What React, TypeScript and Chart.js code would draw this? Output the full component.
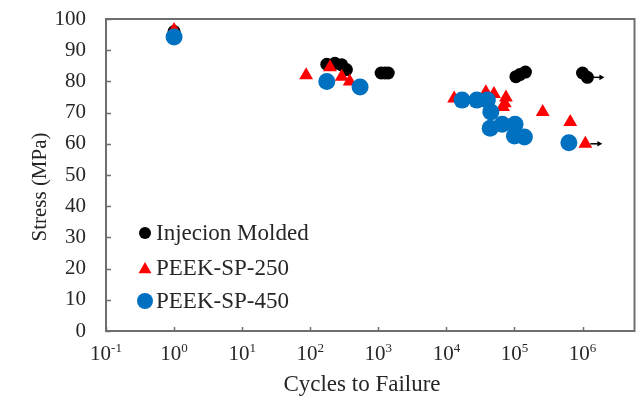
import React, { useEffect, useRef } from "react";
import { Chart, registerables } from "chart.js";
import { drawPoint } from "chart.js/helpers";

Chart.register(...registerables);

const SERIF = '"Liberation Serif", "Times New Roman", Times, serif';
const FRAME_GRAY = "#6e6e6e";
const TEXT_COLOR = "#262626";

// Injection molded specimens
const moldedCycles = [1, 175, 230, 290, 340, 1100, 1250, 1400, 1.05e5, 1.2e5, 1.45e5, 1.0e6, 1.18e6];
const moldedStress = [96, 85.5, 85.8, 85.3, 83.8, 82.7, 82.7, 82.7, 81.5, 82.2, 83, 82.7, 81.3];

// Screw-printed at 250
const sp250Cycles = [1, 87, 195, 290, 380, 1.3e4, 3.8e4, 5.0e4, 7.5e4, 7.2e4, 6.8e4, 2.6e5, 6.6e5, 1.1e6];
const sp250Stress = [96.5, 82, 84.5, 81.5, 80, 74.5, 76.5, 76, 74.8, 73, 71.8, 70.2, 67, 60];

// Screw-printed at 450
const sp450Cycles = [1, 175, 540, 1.7e4, 2.8e4, 4.0e4, 4.5e4, 4.4e4, 6.6e4, 1.02e5, 1.0e5, 1.4e5, 6.3e5];
const sp450Stress = [94.2, 80, 78.2, 74, 74, 74, 70.2, 65, 66.3, 66.3, 62.5, 62.2, 60.3];

// Run-outs (specimens that did not fail)
const runoutCycles = [1.18e6, 1.1e6];
const runoutStress = [81.3, 60];

const seriesNames = ["Injecion Molded", "PEEK-SP-250", "PEEK-SP-450"];
const seriesColors = ["#000000", "#ff0000", "#0070c0"];
const seriesStyles = ["circle", "triangle", "circle"];
const seriesRadius = [6.5, 8, 8.5];

const xTickExponents = [-1, 0, 1, 2, 3, 4, 5, 6];
const yTickValues = [0, 10, 20, 30, 40, 50, 60, 70, 80, 90, 100];

const toPoints = (xs: number[], ys: number[]) => xs.map((v, i) => ({ x: v, y: ys[i] }));

const zeroPadding = (scale: any) => {
  scale.paddingTop = 0;
  scale.paddingBottom = 0;
  scale.paddingLeft = 0;
  scale.paddingRight = 0;
};

const decorPlugin = {
  id: "decor",
  afterDatasetsDraw(chart: any) {
    const { ctx } = chart;
    const xs = chart.scales.x;
    const ys = chart.scales.y;
    // run-out arrows
    ctx.save();
    ctx.strokeStyle = "#000";
    ctx.fillStyle = "#000";
    ctx.lineWidth = 1.5;
    runoutCycles.forEach((c, i) => {
      const px = xs.getPixelForValue(c);
      const py = ys.getPixelForValue(runoutStress[i]);
      const end = px + 17;
      ctx.beginPath();
      ctx.moveTo(px + 5, py);
      ctx.lineTo(end - 4, py);
      ctx.stroke();
      ctx.beginPath();
      ctx.moveTo(end, py);
      ctx.lineTo(end - 5, py - 2.8);
      ctx.lineTo(end - 5, py + 2.8);
      ctx.closePath();
      ctx.fill();
    });
    ctx.restore();
  },
  afterDraw(chart: any) {
    const { ctx, chartArea } = chart;
    const xs = chart.scales.x;
    const ys = chart.scales.y;
    const { left, right, top, bottom } = chartArea;
    ctx.save();

    // plot frame
    ctx.strokeStyle = FRAME_GRAY;
    ctx.lineWidth = 2;
    ctx.strokeRect(left, top, right - left, bottom - top);

    // inward tick marks
    ctx.lineWidth = 1.5;
    ctx.beginPath();
    yTickValues.forEach((v) => {
      const py = Math.round(ys.getPixelForValue(v)) + 0.5;
      ctx.moveTo(left, py);
      ctx.lineTo(left + 5, py);
    });
    xTickExponents.forEach((e) => {
      const px = Math.round(xs.getPixelForValue(Math.pow(10, e))) + 0.5;
      ctx.moveTo(px, bottom);
      ctx.lineTo(px, bottom - 4);
    });
    ctx.stroke();

    // x tick labels: 10 with superscript exponent
    ctx.fillStyle = TEXT_COLOR;
    ctx.textBaseline = "alphabetic";
    ctx.textAlign = "left";
    xTickExponents.forEach((e) => {
      const px = xs.getPixelForValue(Math.pow(10, e));
      const base = "10";
      const sup = e < 0 ? "-" + Math.abs(e) : String(e);
      ctx.font = `21px ${SERIF}`;
      const wb = ctx.measureText(base).width;
      ctx.font = `13px ${SERIF}`;
      const ws = ctx.measureText(sup).width;
      const x0 = px - (wb + ws) / 2;
      ctx.font = `21px ${SERIF}`;
      ctx.fillText(base, x0, bottom + 29);
      ctx.font = `13px ${SERIF}`;
      ctx.fillText(sup, x0 + wb, bottom + 21);
    });

    // axis titles
    ctx.font = `23px ${SERIF}`;
    ctx.textAlign = "center";
    ctx.fillText("Cycles to Failure", left + 256, bottom + 60);
    ctx.save();
    ctx.translate(40, top + 168);
    ctx.rotate(-Math.PI / 2);
    ctx.textBaseline = "middle";
    ctx.font = `21px ${SERIF}`;
    ctx.fillText("Stress (MPa)", 0, 0);
    ctx.restore();

    // legend inside the plot
    const lx = left + 39;
    const rowY = [top + 214, top + 248.5, top + 282];
    seriesNames.forEach((name, i) => {
      ctx.fillStyle = seriesColors[i];
      ctx.strokeStyle = seriesColors[i];
      drawPoint(
        ctx,
        { pointStyle: seriesStyles[i], radius: i === 1 ? 7.5 : seriesRadius[i] - 0.5, rotation: 0, borderWidth: 0 } as any,
        lx,
        rowY[i] + (i === 1 ? 2 : 0)
      );
      ctx.fillStyle = TEXT_COLOR;
      ctx.font = `23px ${SERIF}`;
      ctx.textAlign = "left";
      ctx.textBaseline = "middle";
      ctx.fillText(name, lx + 11, rowY[i] + 1);
    });

    ctx.restore();
  },
};

export default function App() {
  const canvasRef = useRef<HTMLCanvasElement | null>(null);

  useEffect(() => {
    const canvas = canvasRef.current;
    if (!canvas) return;
    const xsData = [moldedCycles, sp250Cycles, sp450Cycles];
    const ysData = [moldedStress, sp250Stress, sp450Stress];
    const chart = new Chart(canvas, {
      type: "scatter",
      data: {
        datasets: seriesNames.map((name, i) => ({
          label: name,
          data: toPoints(xsData[i], ysData[i]),
          pointStyle: seriesStyles[i],
          pointRadius: seriesRadius[i],
          backgroundColor: seriesColors[i],
          borderColor: seriesColors[i],
          borderWidth: 0,
          order: 3 - i,
          clip: false,
        })) as any,
      },
      options: {
        animation: false,
        responsive: false,
        devicePixelRatio: 1,
        events: [],
        layout: { padding: { left: 0, top: 19, right: 6, bottom: 0 } },
        plugins: {
          legend: { display: false },
          tooltip: { enabled: false },
        },
        scales: {
          x: {
            type: "logarithmic",
            min: 0.1,
            max: 5.8e6,
            grid: { display: false, drawTicks: false },
            border: { display: false },
            ticks: { display: false },
            afterBuildTicks: (scale: any) => {
              scale.ticks = xTickExponents.map((e) => ({ value: Math.pow(10, e) }));
            },
            afterFit: (scale: any) => {
              scale.height = 67;
              zeroPadding(scale);
            },
          },
          y: {
            type: "linear",
            min: 0,
            max: 100,
            grid: { display: false, drawTicks: false },
            border: { display: false },
            ticks: {
              stepSize: 10,
              padding: 20,
              color: TEXT_COLOR,
              font: { family: SERIF, size: 21 },
            },
            afterFit: (scale: any) => {
              scale.width = 106;
              zeroPadding(scale);
            },
          },
        },
      },
      plugins: [decorPlugin],
    });
    return () => chart.destroy();
  }, []);

  return (
    <div style={{ position: "fixed", left: 0, top: 0, width: 643, height: 398, background: "#fff" }}>
      <canvas ref={canvasRef} width={643} height={398} />
    </div>
  );
}
